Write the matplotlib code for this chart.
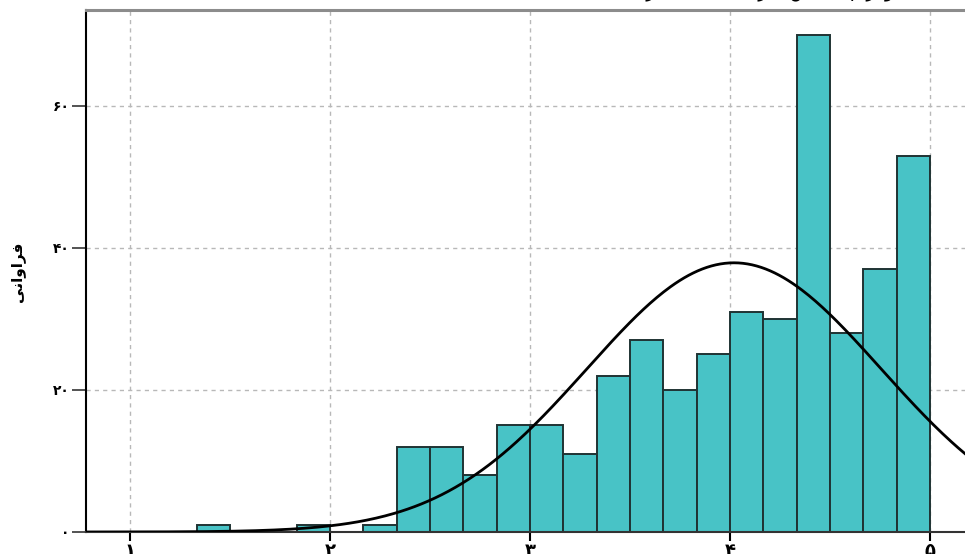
"""Histogram of mean scores with a fitted normal curve (Persian labels)."""

import numpy as np
import matplotlib
matplotlib.use("Agg")
import matplotlib.pyplot as plt

# bins of width 1/6 from 1.0 to 5.0
bin_edges = np.linspace(1.0, 5.0, 25)
counts = [0, 0, 1, 0, 0, 1, 0, 1, 12, 12, 8, 15,
          15, 11, 22, 27, 20, 25, 31, 30, 70, 28, 37, 53]

# normal fit to the scores
fit_mean = 4.02
fit_sd = 0.735

x_ticks = [1, 2, 3, 4, 5]
x_labels = ["۱", "۲", "۳", "۴", "۵"]
y_ticks = [0, 20, 40, 60]
y_labels = ["۰", "۲۰", "۴۰", "۶۰"]

title_text = "هیستوگرام میانگین نمرات با منحنی نرمال"
ylabel_text = "فراوانی"

# Arabic presentation forms: (isolated, final, initial, medial)
FORMS = {
    "ا": (0xFE8D, 0xFE8E), "ب": (0xFE8F, 0xFE90, 0xFE91, 0xFE92),
    "ت": (0xFE95, 0xFE96, 0xFE97, 0xFE98), "د": (0xFEA9, 0xFEAA),
    "ر": (0xFEAD, 0xFEAE), "ز": (0xFEAF, 0xFEB0),
    "س": (0xFEB1, 0xFEB2, 0xFEB3, 0xFEB4), "ع": (0xFEC9, 0xFECA, 0xFECB, 0xFECC),
    "ف": (0xFED1, 0xFED2, 0xFED3, 0xFED4), "گ": (0xFB92, 0xFB93, 0xFB94, 0xFB95),
    "ل": (0xFEDD, 0xFEDE, 0xFEDF, 0xFEE0), "م": (0xFEE1, 0xFEE2, 0xFEE3, 0xFEE4),
    "ن": (0xFEE5, 0xFEE6, 0xFEE7, 0xFEE8), "و": (0xFEED, 0xFEEE),
    "ه": (0xFEE9, 0xFEEA, 0xFEEB, 0xFEEC), "ی": (0xFBFC, 0xFBFD, 0xFBFE, 0xFBFF),
    "ح": (0xFEA1, 0xFEA2, 0xFEA3, 0xFEA4), "ج": (0xFE9D, 0xFE9E, 0xFE9F, 0xFEA0),
}


def shape(text):
    """Join letters and lay words out left-to-right for plain rendering."""
    words = []
    for word in text.split(" "):
        glyphs = []
        for i, ch in enumerate(word):
            forms = FORMS.get(ch)
            if forms is None:
                glyphs.append(ch)
                continue
            prev = word[i - 1] if i > 0 else None
            nxt = word[i + 1] if i < len(word) - 1 else None
            joins_prev = prev in FORMS and len(FORMS[prev]) == 4
            joins_next = nxt in FORMS and len(forms) == 4
            idx = (1 if joins_prev else 0) + (2 if joins_next else 0)
            glyphs.append(chr(forms[idx]))
        words.append("".join(reversed(glyphs)))
    return " ".join(reversed(words))


plt.rcParams["font.family"] = ["DejaVu Sans"]

W, H = 965, 554
fig = plt.figure(figsize=(W / 100, H / 100), dpi=100)
ax = fig.add_axes([86 / W, 22 / H, 904 / W, 522 / H])

width = bin_edges[1] - bin_edges[0]
ax.bar(bin_edges[:-1], counts, width=width, align="edge",
       color="#48c3c6", edgecolor="#1f3333", linewidth=1.4, zorder=2)

n = sum(counts)
xs = np.linspace(0.78, 5.3, 400)
curve = n * width * np.exp(-0.5 * ((xs - fit_mean) / fit_sd) ** 2) / (fit_sd * np.sqrt(2 * np.pi))
ax.plot(xs, curve, color="black", lw=2, zorder=3)

ax.set_xlim(0.78, 5.3)
ax.set_ylim(0, 73.5)
ax.set_xticks(x_ticks)
ax.set_xticklabels(x_labels, fontsize=13, fontweight="bold")
ax.set_yticks(y_ticks)
ax.set_yticklabels(y_labels, fontsize=10, fontweight="bold")

ax.grid(True, color="#b8b8b8", linestyle=(0, (3, 3)), lw=1, zorder=0)
ax.set_axisbelow(True)

ax.spines["right"].set_visible(False)
ax.spines["top"].set_color("#8c8c8c")
ax.spines["top"].set_linewidth(2.2)
ax.spines["left"].set_color("black")
ax.spines["left"].set_linewidth(1.5)
ax.spines["bottom"].set_color("#333333")
ax.spines["bottom"].set_linewidth(1.5)

ax.tick_params(axis="y", length=10, width=1.3, color="#444444", pad=2)
ax.tick_params(axis="x", length=6.5, width=1.5, color="black", pad=0.5)

fig.text(18 / W, 1 - 272 / H, shape(ylabel_text), rotation=90,
         ha="center", va="center", fontsize=11, fontweight="bold")
fig.text(775 / W, 1 + 3.5 / H, shape(title_text), ha="center",
         va="baseline", fontsize=13)

fig.savefig("out.png", dpi=100)
